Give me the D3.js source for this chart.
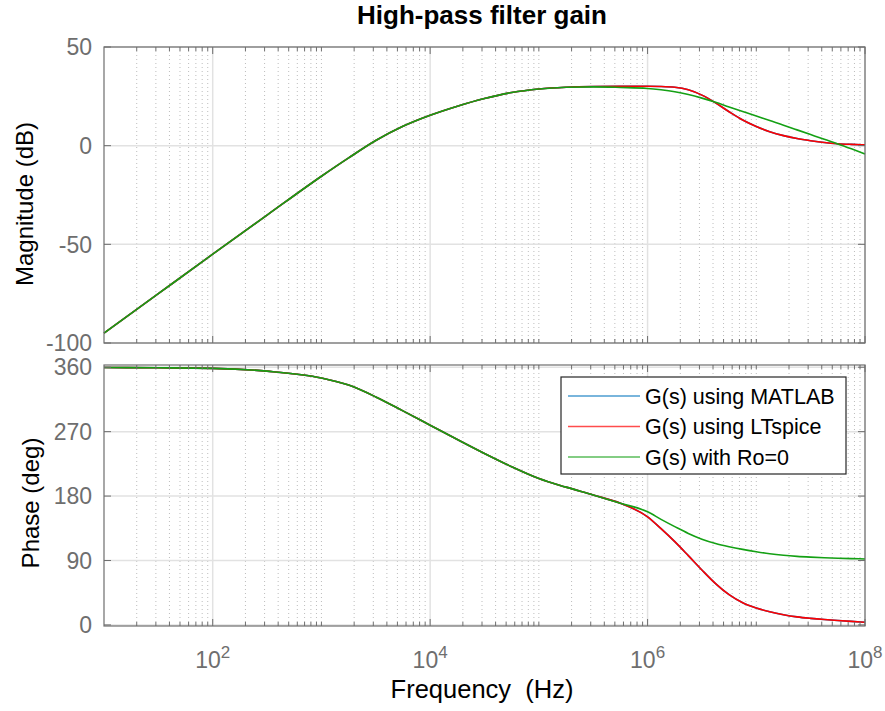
<!DOCTYPE html>
<html lang="en">
<head>
    <meta charset="UTF-8">
    <title>High-pass filter gain</title>
    <script src="https://d3js.org/d3.v7.min.js"></script>
    <style>
        body { margin: 0; background: #fff; }
        svg { font-family: "Liberation Sans", Arial, Helvetica, sans-serif; }
    </style>
</head>
<body>
    <div id="chart"></div>

    <script>
        // frequency points (Hz)
        var freq = [1e1, 3.16e1, 1e2, 3.16e2, 1e3, 1.78e3, 3.16e3, 5.62e3, 1e4, 1.78e4,
                    3.16e4, 5.62e4, 1e5, 1.78e5, 3.16e5, 5.62e5, 1e6, 1.33e6, 1.78e6, 2.37e6,
                    3.16e6, 4.22e6, 5.62e6, 7.5e6, 1e7, 1.33e7, 1.78e7, 2.37e7, 3.16e7, 4.22e7,
                    5.62e7, 7.5e7, 1e8];

        // magnitude (dB)
        var magMatlab = [-95, -75, -55, -35.2, -15.5, -6.2, 2.6, 9.8, 15.4, 20.0,
                         23.9, 26.9, 28.7, 29.6, 30.0, 30.1, 30.1, 30.0, 29.6, 28.3,
                         25.6, 21.7, 17.2, 13.0, 9.7, 7.1, 5.1, 3.6, 2.5, 1.6,
                         1.0, 0.65, 0.4];
        var magLTspice = [-95, -75, -55, -35.2, -15.5, -6.2, 2.6, 9.8, 15.4, 20.0,
                          23.9, 26.9, 28.7, 29.6, 30.0, 30.1, 30.1, 30.0, 29.6, 28.3,
                          25.6, 21.7, 17.2, 13.0, 9.7, 7.1, 5.1, 3.6, 2.5, 1.6,
                          1.0, 0.65, 0.4];
        var magRo0 = [-95, -75, -55, -35.2, -15.5, -6.2, 2.6, 9.8, 15.4, 20.0,
                      23.9, 26.9, 28.7, 29.6, 29.8, 29.5, 29.0, 28.3, 27.3, 25.9,
                      24.1, 22.0, 19.6, 17.3, 15.0, 12.7, 10.4, 8.0, 5.6, 3.2,
                      0.9, -1.6, -4.2];

        // phase (deg)
        var phaseMatlab = [359.6, 359.2, 358.4, 354.5, 345, 335, 318.5, 299, 279, 259,
                           239.5, 221, 204.5, 192.5, 181.5, 170, 151, 134.5, 116.3, 96.8,
                           76.8, 57.8, 42.3, 31, 23.7, 18.4, 14.3, 11.3, 9.2, 7.5,
                           6.1, 4.9, 3.8];
        var phaseLTspice = [359.6, 359.2, 358.4, 354.5, 345, 335, 318.5, 299, 279, 259,
                            239.5, 221, 204.5, 192.5, 181.5, 170, 151, 134.5, 116.3, 96.8,
                            76.8, 57.8, 42.3, 31, 23.7, 18.4, 14.3, 11.3, 9.2, 7.5,
                            6.1, 4.9, 3.8];
        var phaseRo0 = [359.6, 359.2, 358.4, 354.5, 345, 335, 318.5, 299, 279, 259,
                        239.5, 221, 204.5, 192.5, 181.5, 170, 158, 147.5, 137.3, 127.8,
                        119.8, 113.8, 109.3, 105.5, 102.2, 99.4, 97.3, 95.8, 94.7, 93.8,
                        93.1, 92.6, 92.2];

        var seriesNames = ["G(s) using MATLAB", "G(s) using LTspice", "G(s) with Ro=0"];
        var seriesColors = ["#0072BD", "#FF0000", "#14A014"];

        var magTicks = [-100, -50, 0, 50];
        var phaseTicks = [0, 90, 180, 270, 360];
        var freqTicks = [1e2, 1e4, 1e6, 1e8];

        var width = 885, height = 711;
        var left = 104, right = 865;
        var axisColor = "#6e6e6e";

        var svg = d3.select("#chart")
            .append("svg")
            .attr("width", width)
            .attr("height", height);

        var x = d3.scaleLog().domain([10, 1e8]).range([left, right]);
        var yMag = d3.scaleLinear().domain([-100, 50]).range([343, 47]);
        var yPhase = d3.scaleLinear().domain([-1.5, 363.1]).range([626, 365]);

        // minor ticks at n*10^k, the odd decades count as minor too
        var minorTicks = [];
        for (var k = 1; k < 8; k++) {
            for (var n = 1; n < 10; n++) {
                if (k === 1 && n === 1) continue;
                if (n === 1 && k % 2 === 0) continue;
                minorTicks.push(n * Math.pow(10, k));
            }
        }

        function drawPanel(y, yTicks, series, showXLabels) {
            var top = y.range()[1], bottom = y.range()[0];
            var g = svg.append("g");

            // minor grid (dotted)
            g.selectAll(".minor").data(minorTicks).enter().append("line")
                .attr("x1", function(d) { return x(d); })
                .attr("x2", function(d) { return x(d); })
                .attr("y1", top).attr("y2", bottom)
                .attr("stroke", "#bdbdbd")
                .attr("stroke-width", 1)
                .attr("stroke-dasharray", "1,3");

            // major grid
            g.selectAll(".majorx").data(freqTicks).enter().append("line")
                .attr("x1", function(d) { return x(d); })
                .attr("x2", function(d) { return x(d); })
                .attr("y1", top).attr("y2", bottom)
                .attr("stroke", "#e2e2e2")
                .attr("stroke-width", 1.5);
            g.selectAll(".majory").data(yTicks).enter().append("line")
                .attr("x1", left).attr("x2", right)
                .attr("y1", function(d) { return y(d); })
                .attr("y2", function(d) { return y(d); })
                .attr("stroke", "#e2e2e2")
                .attr("stroke-width", 1.5);

            // curves
            var line = d3.line()
                .x(function(d) { return x(d[0]); })
                .y(function(d) { return y(d[1]); })
                .curve(d3.curveMonotoneX);

            series.forEach(function(vals, i) {
                g.append("path")
                    .datum(freq.map(function(f, j) { return [f, vals[j]]; }))
                    .attr("d", line)
                    .attr("fill", "none")
                    .attr("stroke", seriesColors[i])
                    .attr("stroke-width", 1.6);
            });

            // box
            g.append("rect")
                .attr("x", left).attr("y", top)
                .attr("width", right - left).attr("height", bottom - top)
                .attr("fill", "none")
                .attr("stroke", axisColor)
                .attr("stroke-width", 1.2);

            // x ticks, top and bottom, pointing in
            var xt = minorTicks.map(function(d) { return [d, 4]; })
                .concat(freqTicks.map(function(d) { return [d, 7]; }));
            g.selectAll(".xtb").data(xt).enter().append("line")
                .attr("x1", function(d) { return x(d[0]); })
                .attr("x2", function(d) { return x(d[0]); })
                .attr("y1", bottom).attr("y2", function(d) { return bottom - d[1]; })
                .attr("stroke", axisColor);
            g.selectAll(".xtt").data(xt).enter().append("line")
                .attr("x1", function(d) { return x(d[0]); })
                .attr("x2", function(d) { return x(d[0]); })
                .attr("y1", top).attr("y2", function(d) { return top + d[1]; })
                .attr("stroke", axisColor);

            // y ticks, left and right
            g.selectAll(".ytl").data(yTicks).enter().append("line")
                .attr("x1", left).attr("x2", left + 7)
                .attr("y1", function(d) { return y(d); })
                .attr("y2", function(d) { return y(d); })
                .attr("stroke", axisColor);
            g.selectAll(".ytr").data(yTicks).enter().append("line")
                .attr("x1", right).attr("x2", right - 7)
                .attr("y1", function(d) { return y(d); })
                .attr("y2", function(d) { return y(d); })
                .attr("stroke", axisColor);

            g.selectAll(".ylab").data(yTicks).enter().append("text")
                .attr("x", left - 12)
                .attr("y", function(d) { return y(d); })
                .attr("dy", "0.36em")
                .attr("text-anchor", "end")
                .attr("fill", axisColor)
                .style("font-size", "23px")
                .text(function(d) { return d; });

            if (showXLabels) {
                freqTicks.forEach(function(d) {
                    var t = g.append("text")
                        .attr("x", x(d))
                        .attr("y", 668)
                        .attr("text-anchor", "middle")
                        .attr("fill", axisColor)
                        .style("font-size", "23px");
                    t.append("tspan").text("10");
                    t.append("tspan")
                        .attr("dy", -10)
                        .style("font-size", "17px")
                        .text(Math.round(Math.log10(d)));
                });
            }
            return g;
        }

        drawPanel(yMag, magTicks, [magMatlab, magLTspice, magRo0], false);
        drawPanel(yPhase, phaseTicks, [phaseMatlab, phaseLTspice, phaseRo0], true);

        // titles and labels
        svg.append("text")
            .attr("x", 482).attr("y", 24)
            .attr("text-anchor", "middle")
            .style("font-size", "26px")
            .style("font-weight", "bold")
            .text("High-pass filter gain");

        svg.append("text")
            .attr("transform", "translate(33,204) rotate(-90)")
            .attr("text-anchor", "middle")
            .style("font-size", "24px")
            .text("Magnitude (dB)");

        svg.append("text")
            .attr("transform", "translate(39,503) rotate(-90)")
            .attr("text-anchor", "middle")
            .style("font-size", "24px")
            .text("Phase (deg)");

        svg.append("text")
            .attr("x", 482).attr("y", 698)
            .attr("text-anchor", "middle")
            .style("font-size", "25.5px")
            .style("white-space", "pre")
            .text("Frequency  (Hz)");

        // legend
        var legend = svg.append("g").attr("transform", "translate(561,377)");
        legend.append("rect")
            .attr("width", 285).attr("height", 97)
            .attr("fill", "#fff")
            .attr("stroke", "#262626")
            .attr("stroke-width", 1.2);

        var item = legend.selectAll(".item").data(seriesNames).enter().append("g")
            .attr("transform", function(d, i) { return "translate(0," + (19 + i * 30.5) + ")"; });
        item.append("line")
            .attr("x1", 7).attr("x2", 79)
            .attr("stroke", function(d, i) { return seriesColors[i]; })
            .attr("stroke-opacity", 0.7)
            .attr("stroke-width", 1.6);
        item.append("text")
            .attr("x", 84)
            .attr("dy", "0.36em")
            .style("font-size", "21.5px")
            .text(function(d) { return d; });
    </script>
</body>
</html>
